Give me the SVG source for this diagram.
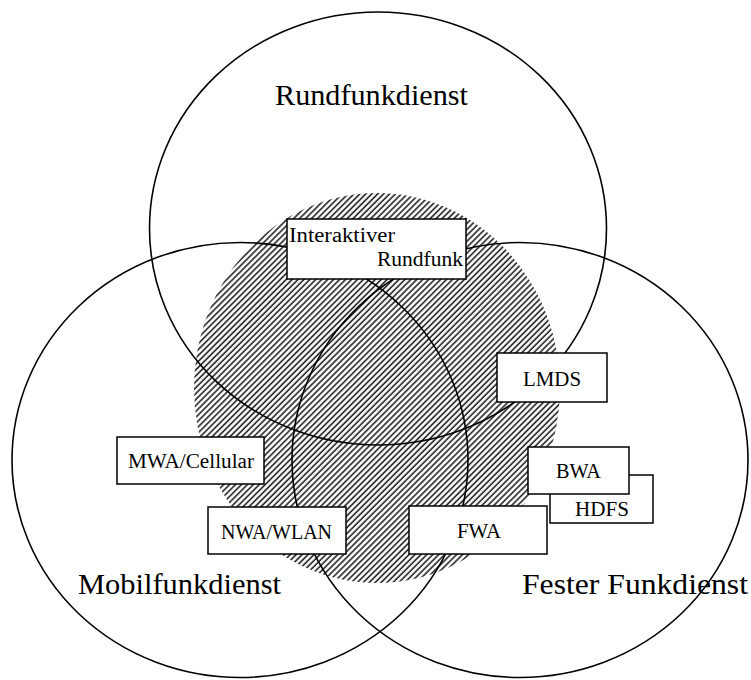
<svg xmlns="http://www.w3.org/2000/svg" width="751" height="680" viewBox="0 0 751 680">
<style>
.ring{fill:none;stroke:#000;stroke-width:1.6}
.box{fill:#fff;stroke:#000;stroke-width:1.5}
.lbl{font-family:'Liberation Serif','DejaVu Serif','Times New Roman',serif;font-size:20px;fill:#000}
.ttl{font-family:'Liberation Serif','DejaVu Serif','Times New Roman',serif;font-size:29px;fill:#000}
</style>
<defs>
<pattern id="hatch" width="4.2" height="10" patternUnits="userSpaceOnUse" patternTransform="rotate(45)">
<rect width="4.2" height="10" fill="#fff"/>
<line x1="1" y1="0" x2="1" y2="10" stroke="#222" stroke-width="1.6"/>
</pattern>
</defs>
<rect width="751" height="680" fill="#fff"/>
<g id="hatched-area">
<ellipse cx="377" cy="388" rx="183" ry="195" fill="url(#hatch)"/>
</g>
<g id="labels">
<text class="ttl" x="275" y="105" textLength="193" lengthAdjust="spacingAndGlyphs">Rundfunkdienst</text>
<text class="ttl" x="78" y="594" textLength="203" lengthAdjust="spacingAndGlyphs">Mobilfunkdienst</text>
<text class="ttl" x="522" y="594" textLength="226" lengthAdjust="spacingAndGlyphs">Fester Funkdienst</text>
</g>
<g id="circles">
<ellipse id="rundfunkdienst" class="ring" cx="378" cy="228.5" rx="228.5" ry="216.5"/>
<ellipse id="mobilfunkdienst" class="ring" cx="240" cy="460" rx="228" ry="217.5"/>
<ellipse id="fester-funkdienst" class="ring" cx="520" cy="460" rx="228" ry="217.5"/>
</g>
<g id="connectors"></g>
<g id="interaktiver-rundfunk">
<rect class="box" x="287" y="219" width="179" height="60"/>
<text class="lbl" x="289" y="242" textLength="106" lengthAdjust="spacingAndGlyphs">Interaktiver</text>
<text class="lbl" x="377" y="266" textLength="86" lengthAdjust="spacingAndGlyphs">Rundfunk</text>
</g>
<g id="lmds">
<rect class="box" x="497" y="353" width="110" height="49"/>
<text class="lbl" x="523" y="386" textLength="58" lengthAdjust="spacingAndGlyphs">LMDS</text>
</g>
<g id="hdfs">
<rect class="box" x="550" y="475" width="103" height="48"/>
<text class="lbl" x="575" y="516" textLength="54" lengthAdjust="spacingAndGlyphs">HDFS</text>
</g>
<g id="bwa">
<rect class="box" x="528" y="447" width="101" height="47"/>
<text class="lbl" x="556" y="478" textLength="45" lengthAdjust="spacingAndGlyphs">BWA</text>
</g>
<g id="mwa-cellular">
<rect class="box" x="117" y="437" width="147" height="47"/>
<text class="lbl" x="128" y="468" textLength="126" lengthAdjust="spacingAndGlyphs">MWA/Cellular</text>
</g>
<g id="nwa-wlan">
<rect class="box" x="208" y="507" width="138" height="47"/>
<text class="lbl" x="221" y="539" textLength="111" lengthAdjust="spacingAndGlyphs">NWA/WLAN</text>
</g>
<g id="fwa">
<rect class="box" x="409" y="506" width="138" height="48"/>
<text class="lbl" x="457" y="538" textLength="44" lengthAdjust="spacingAndGlyphs">FWA</text>
</g>
</svg>
